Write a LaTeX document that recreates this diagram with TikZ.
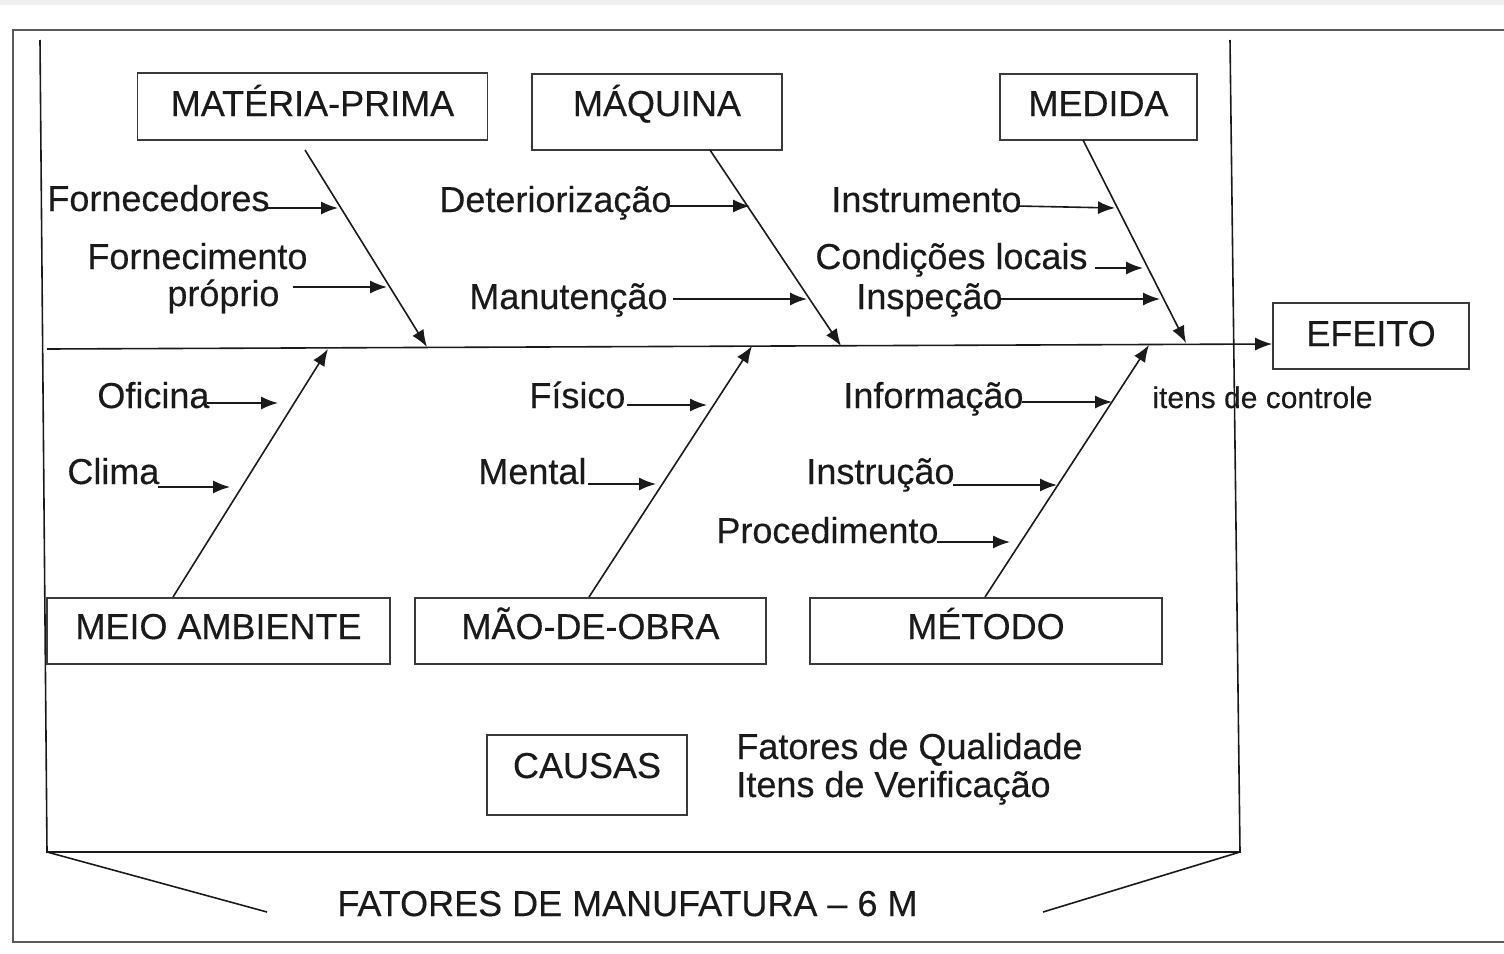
\documentclass[tikz,border=0pt]{standalone}
\usepackage{fontspec}
\setmainfont{Liberation Sans}
\newfontfamily\tfont{Liberation Sans}[FakeBold=0.3]
\usetikzlibrary{arrows.meta}
\definecolor{ink}{HTML}{1A1A1A}
\definecolor{framec}{HTML}{5A5A5A}
\definecolor{bandc}{HTML}{EFEFEF}
\definecolor{boxc}{HTML}{3A3A3A}
\begin{document}
\begin{tikzpicture}[x=0.5pt,y=-0.5pt,
  tf/.style={font=\tfont\fontsize{18}{21}\selectfont},
  lbl/.style={tf, anchor=base west, inner sep=0pt, text=ink},
  small/.style={anchor=base west, inner sep=0pt, text=ink, font=\tfont\fontsize{15}{18}\selectfont},
  bx/.style={tf, draw=boxc, line width=0.8pt, anchor=base, inner sep=0pt, text=ink},
  arr/.style={draw=ink, line width=0.8pt, -{Latex[length=8.5pt,width=6.5pt]}},
  plain/.style={draw=ink, line width=0.8pt},
  framel/.style={draw=framec, line width=0.9pt}]
\useasboundingbox (0,0) rectangle (1504,953);
\fill[white] (0,0) rectangle (1504,953);
\fill[bandc] (0,0) rectangle (1504,5);
% outer frame
\draw[framel] (1504,30) -- (13,30) -- (13,942) -- (1504,942);
% bracket
\coordinate (bl) at (47,852);
\coordinate (br) at (1240,852);
\coordinate (dl) at (267,912);
\coordinate (dr) at (1043,912);
\draw[plain] (40,40) -- (bl) -- (br) -- (1230,40);
\draw[plain] (bl) -- (dl);
\draw[plain] (br) -- (dr);
% boxes
\node[bx, minimum width=175pt, text height=21.5pt, text depth=12pt] (mp) at (312.5,116) {MATÉRIA-PRIMA};
\node[bx, minimum width=125pt, text height=21pt, text depth=17pt] (mq) at (657,116) {MÁQUINA};
\node[bx, minimum width=98.5pt, text height=21pt, text depth=12pt] (md) at (1098.5,116) {MEDIDA};
\node[bx, minimum width=98pt, text height=21.5pt, text depth=11.5pt] (ef) at (1371,346) {EFEITO};
\node[bx, minimum width=171.5pt, text height=20.5pt, text depth=12.5pt] (ma) at (218.5,639) {MEIO AMBIENTE};
\node[bx, minimum width=175.5pt, text height=20.5pt, text depth=12.5pt] (mo) at (590.5,639) {MÃO-DE-OBRA};
\node[bx, minimum width=176pt, text height=20.5pt, text depth=12.5pt] (mt) at (986,639) {MÉTODO};
\node[bx, minimum width=100pt, text height=21.5pt, text depth=18.5pt] (ca) at (587,778) {CAUSAS};
% spine
\coordinate (spL) at (47,349);
\draw[arr] (spL) -- ([yshift=-4pt]ef.west);
% bones
\coordinate (b1s) at (305,150); \coordinate (b1e) at (427,347);
\coordinate (b2s) at (710,150); \coordinate (b2e) at (841,346);
\coordinate (b3s) at (1083,140); \coordinate (b3e) at (1186,343);
\coordinate (b4s) at (173,597); \coordinate (b4e) at (328,349);
\coordinate (b5s) at (589,597); \coordinate (b5e) at (752,346);
\coordinate (b6s) at (985,597); \coordinate (b6e) at (1149,345);
\foreach \i in {1,...,6} {\draw[arr] (b\i s) -- (b\i e);}
% labels
\node[lbl] (t1) at (47,211) {Fornecedores};
\node[lbl] (t2a) at (87,269) {Fornecimento};
\node[lbl] (t2b) at (167,306) {próprio};
\node[lbl] (t3) at (439,212) {Deteriorização};
\node[lbl] (t4) at (469,309) {Manutenção};
\node[lbl] (t5) at (831,212) {Instrumento};
\node[lbl] (t6) at (815,269) {Condições locais};
\node[lbl] (t7) at (856,309) {Inspeção};
\node[lbl] (t8) at (97,408) {Oficina};
\node[lbl] (t9) at (67,484) {Clima};
\node[lbl] (t10) at (529,408) {Físico};
\node[lbl] (t11) at (478,484) {Mental};
\node[lbl] (t12) at (843,408) {Informação};
\node[lbl] (t13) at (806,484) {Instrução};
\node[lbl] (t14) at (716,543) {Procedimento};
\node[small] (ic) at (1152,408) {itens de controle};
\node[lbl] (fq) at (736,759) {Fatores de Qualidade};
\node[lbl] (iv) at (736,797) {Itens de Verificação};
\node[lbl] (fm) at (337,916) {FATORES DE MANUFATURA – 6 M};
% sub-cause arrows
\coordinate (a1s) at (267,208); \coordinate (a1e) at (338,208);
\coordinate (a2s) at (293,287); \coordinate (a2e) at (387,287);
\coordinate (a3s) at (668,206); \coordinate (a3e) at (750,206);
\coordinate (a4s) at (673,299); \coordinate (a4e) at (807,299);
\coordinate (a5s) at (1017,206); \coordinate (a5e) at (1115,208);
\coordinate (a6s) at (1095,268); \coordinate (a6e) at (1143,268);
\coordinate (a7s) at (1000,299); \coordinate (a7e) at (1160,299);
\coordinate (a8s) at (207,403); \coordinate (a8e) at (278,403);
\coordinate (a9s) at (158,487); \coordinate (a9e) at (230,487);
\coordinate (a10s) at (627,405); \coordinate (a10e) at (707,405);
\coordinate (a11s) at (588,484); \coordinate (a11e) at (656,484);
\coordinate (a12s) at (1022,402); \coordinate (a12e) at (1112,402);
\coordinate (a13s) at (953,485); \coordinate (a13e) at (1057,485);
\coordinate (a14s) at (937,542); \coordinate (a14e) at (1010,542);
\foreach \i in {1,...,14} {\draw[arr] (a\i s) -- (a\i e);}
\end{tikzpicture}
\end{document}
